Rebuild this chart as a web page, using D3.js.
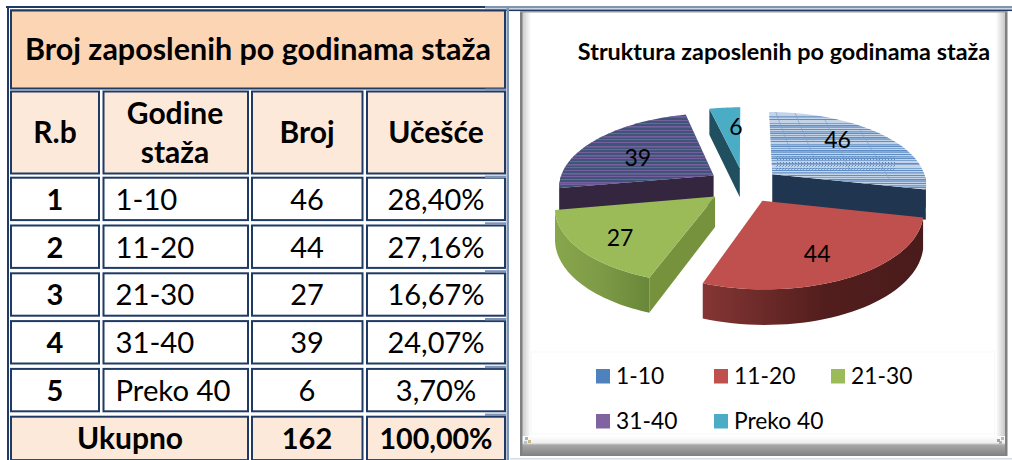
<!DOCTYPE html>
<html><head><meta charset="utf-8">
<script src="https://cdnjs.cloudflare.com/ajax/libs/d3/7.8.5/d3.min.js"></script>
<style>html,body{margin:0;padding:0;background:#fff}svg{display:block}text{font-family:Lato,"Open Sans",sans-serif;fill:#000}</style>
</head><body><svg id="c" width="1012" height="460"></svg>
<script>
// ---- data ----
const tableTitle = "Broj zaposlenih po godinama staža";
const chartTitle = "Struktura zaposlenih po godinama staža";
const headers = ["R.b", ["Godine", "staža"], "Broj", "Učešće"];
const rowNumbers = ["1", "2", "3", "4", "5"];
const categories = ["1-10", "11-20", "21-30", "31-40", "Preko 40"];
const counts = [46, 44, 27, 39, 6];
const shares = ["28,40%", "27,16%", "16,67%", "24,07%", "3,70%"];
const totalLabel = "Ukupno", totalCount = "162", totalShare = "100,00%";

// ---- style ----
const topColors = ["#c4d4e8", "#c0504d", "#9bbb59", "#3f5478", "#4bacc6"];
const swatches = ["#4f81bd", "#c0504d", "#9bbb59", "#8064a2", "#4bacc6"];
const wallColors = ["#1f3550", "url(#redWall)", "url(#greenWall)", "#35263f", "#205060"];
const faceColors = ["#1f3550", "#4c1d1c", "#76923c", "#35263f", "#205060"];
const labelAngleShift = [-9, 3, -3, -7, 4], labelRadius = [.7, .7, .75, .58, .65];
const navy = "#1f3a64", steel = "#7f93b2";
const blueRows = [116,119,123,125,127,129,131,133,135,137,139,141,144,146,148,150,152,154,156,158,160,163,168,170,172,175,177,179,181,183,185,187,189,191];
const purpleRows = [112,116,120,123,126,130,133,136,139,142,146,149,152,155,158,161,164,167,170,173,176,179,182,184];
const blueRays = [[775,110,790,150],[795,113,815,160],[825,120,850,170],[860,130,890,180]];
const cornerSpecks = [[525,437,"#9fb4c8"],[528,440,"#c9b98a"],[524,441,"#b8c4cc"],[999,441,"#9fb4c8"],[1001,437,"#c9b98a"],[997,439,"#8fa8b8"]];

const svg = d3.select("#c");
const defs = svg.append("defs");
function grad(id, stops, x2 = 1, y2 = 0) {
  const g = defs.append("linearGradient").attr("id", id).attr("x1", 0).attr("y1", 0).attr("x2", x2).attr("y2", y2);
  stops.forEach(s => g.append("stop").attr("offset", s[0]).attr("stop-color", s[1]));
}
grad("redWall", [[0, "#853634"], [.55, "#521e1d"], [1, "#4a1b1b"]]);
grad("greenWall", [[0, "#88a64c"], [.5, "#7d9a46"], [1, "#69873a"]]);
grad("edgeL", [[0, "#c8c8c8"], [1, "#ffffff"]]);
grad("edgeR", [[0, "#ffffff"], [1, "#c8c8c8"]]);
grad("edgeB", [[0, "#ffffff"], [.35, "#ededed"], [.45, "#a8a8a8"], [1, "#808080"]], 0, 1);
const dots = defs.append("pattern").attr("id", "dots").attr("width", 3).attr("height", 3).attr("patternUnits", "userSpaceOnUse");
dots.append("rect").attr("width", 1).attr("height", 1).attr("fill", "#5a88c0");
dots.append("rect").attr("x", 2).attr("y", 1).attr("width", 1).attr("height", 1).attr("fill", "#7ba1cf");

// ---- page frame ----
svg.append("rect").attr("x", 6).attr("y", 6).attr("width", 480).attr("height", 2).attr("fill", navy);
svg.append("rect").attr("x", 485).attr("y", 6).attr("width", 527).attr("height", 2.4).attr("fill", steel);
svg.append("rect").attr("x", 10).attr("y", 9.5).attr("width", 1002).attr("height", 1.6).attr("fill", navy);
svg.append("rect").attr("x", 7).attr("y", 6).attr("width", 2).attr("height", 454).attr("fill", navy);
svg.append("rect").attr("x", 506.5).attr("y", 8).attr("width", 2.5).attr("height", 452).attr("fill", steel);

// ---- table ----
const colX = [10, 102.5, 251, 366], colEnd = [100, 249, 363.5, 506];
const rowY = d3.scaleLinear().domain([0, 1]).range([176.7, 224.5]);
const rowH = 44.4;
const t = svg.append("g");
function cell(x0, x1, y0, h, fill) {
  t.append("rect").attr("x", x0 + 1).attr("y", y0 + 1).attr("width", x1 - x0 - 2).attr("height", h - 2)
    .attr("fill", fill).attr("stroke", navy).attr("stroke-width", 2);
}
function txt(s, x, y, size, bold, anchor = "middle") {
  t.append("text").attr("x", x).attr("y", y).attr("font-size", size).attr("font-weight", bold ? 700 : 400)
    .attr("text-anchor", anchor).text(s);
}
const peach = "#fcd5b4", pale = "#fde9d9";
cell(10, 506, 9.5, 80, peach);
txt(tableTitle, 258, 59.5, 30.5, true);
colX.forEach((x, i) => cell(x, colEnd[i], 90.5, 84, pale));
const colC = [55, 175, 307, 436];
txt(headers[0], colC[0], 143, 30, true);
txt(headers[1][0], colC[1], 124, 30, true);
txt(headers[1][1], colC[1], 163, 30, true);
txt(headers[2], colC[2], 143, 30, true);
txt(headers[3], colC[3], 143, 30, true);
categories.forEach((c, i) => {
  const y = rowY(i), b = y + 33;
  colX.forEach((x, j) => cell(x, colEnd[j], y, rowH, "#fff"));
  txt(rowNumbers[i], colC[0], b, 29, true);
  txt(c, 115.5, b, 29.3, false, "start");
  txt(counts[i], colC[2], b, 29, false);
  txt(shares[i], colC[3], b, 29, false);
});
const ty = rowY(5);
cell(10, 249, ty, rowH + 1, pale); cell(251, 363.5, ty, rowH + 1, pale); cell(366, 506, ty, rowH + 1, pale);
txt(totalLabel, 130, ty + 33, 30, true);
txt(totalCount, colC[2], ty + 33, 29, true);
txt(totalShare, colC[3], ty + 33, 28.6, true);
[88.6, 175.6, 222.3, 270.2, 318, 365.8, 413.6].forEach(y =>
  svg.append("rect").attr("x", 485).attr("y", y).attr("width", 21).attr("height", 2.4).attr("fill", steel));

// ---- chart panel ----
const p = svg.append("g");
p.append("rect").attr("x", 520).attr("y", 11).attr("width", 487).attr("height", 445).attr("fill", "#fff");
p.append("rect").attr("x", 522).attr("y", 12).attr("width", 9).attr("height", 434).attr("fill", "url(#edgeL)");
p.append("rect").attr("x", 996).attr("y", 12).attr("width", 9).attr("height", 434).attr("fill", "url(#edgeR)");
p.append("rect").attr("x", 522).attr("y", 436).attr("width", 483).attr("height", 20).attr("fill", "url(#edgeB)");
p.append("rect").attr("x", 520).attr("y", 11).attr("width", 2.5).attr("height", 445).attr("fill", "#808080");
p.append("rect").attr("x", 1005).attr("y", 11).attr("width", 2.5).attr("height", 445).attr("fill", "#808080");
p.append("rect").attr("x", 520).attr("y", 11).attr("width", 487).attr("height", 1.5).attr("fill", "#9a9a9a");
p.append("rect").attr("x", 510).attr("y", 458).attr("width", 502).attr("height", 1.5).attr("fill", "#d5dbe6");
p.append("rect").attr("x", 531.5).attr("y", 352).attr("width", 463).attr("height", 82).attr("fill", "none").attr("stroke", "#f8f8f8");
cornerSpecks.forEach(s => p.append("rect").attr("x", s[0]).attr("y", s[1]).attr("width", 3).attr("height", 3).attr("fill", s[2]));

svg.append("text").attr("x", 784).attr("y", 59.5).attr("text-anchor", "middle").attr("font-size", 23.4).attr("font-weight", 700).text(chartTitle);

// ---- 3D exploded pie ----
const cx = 744, cy = 185, R = 155, explode = 37, tilt = .47, D = 1200, depth = 30;
const pie = d3.pie().sort(null)(counts);
function project(u, v, drop = 0) {
  const s = D / (D - v);
  return [cx + u * s, cy + (tilt * v + drop) * s];
}
function slicePoint(a, mid, r, drop = 0) {
  return project(explode * Math.sin(mid) + r * Math.sin(a), -explode * Math.cos(mid) - r * Math.cos(a), drop);
}
const line = d3.line();
const arcAngles = (a0, a1) => d3.range(0, 41).map(i => a0 + (a1 - a0) * i / 40);
const g = svg.append("g");
[4, 0, 3, 2, 1].forEach(i => {
  const d = pie[i], a0 = d.startAngle, a1 = d.endAngle, m = (a0 + a1) / 2;
  const face = a => [slicePoint(0, m, 0), slicePoint(a, m, R), slicePoint(a, m, R, depth), slicePoint(0, m, 0, depth)];
  // outer wall, only where it faces the viewer
  const w0 = Math.max(a0, Math.PI / 2), w1 = Math.min(a1, 1.5 * Math.PI);
  if (w1 > w0) {
    const arc = arcAngles(w0, w1);
    g.append("path").attr("d", line(arc.map(a => slicePoint(a, m, R)).concat(arc.slice().reverse().map(a => slicePoint(a, m, R, depth)))) + "Z").attr("fill", wallColors[i]);
  }
  // cut faces that face the viewer
  if (-Math.cos(a1 + Math.PI / 2) > 0) g.append("path").attr("d", line(face(a1)) + "Z").attr("fill", faceColors[i]);
  if (-Math.cos(a0 - Math.PI / 2) > 0) g.append("path").attr("d", line(face(a0)) + "Z").attr("fill", faceColors[i]);
  // top
  const topPath = line([slicePoint(0, m, 0)].concat(arcAngles(a0, a1).map(a => slicePoint(a, m, R)))) + "Z";
  g.append("path").attr("d", topPath).attr("fill", topColors[i]);
  defs.append("clipPath").attr("id", "top" + i).append("path").attr("d", topPath);
  const tex = g.append("g").attr("clip-path", `url(#top${i})`);
  if (i === 0) {
    blueRows.forEach((y, k) => tex.append("rect").attr("x", 760).attr("y", y).attr("width", 180).attr("height", k % 3 === 0 ? 1.6 : 1).attr("fill", "#4f81bd").attr("opacity", k % 2 ? .85 : .6));
    blueRays.forEach(r => tex.append("line").attr("x1", r[0]).attr("y1", r[1]).attr("x2", r[2]).attr("y2", r[3]).attr("stroke", "#7ba1cf").attr("stroke-width", .7));
    tex.append("rect").attr("x", 775).attr("y", 156).attr("width", 120).attr("height", 14).attr("fill", "url(#dots)");
  }
  if (i === 3) {
    purpleRows.forEach((y, k) => tex.append("rect").attr("x", 550).attr("y", y).attr("width", 170).attr("height", k % 3 === 1 ? 1.6 : 1).attr("fill", "#7f62a6").attr("opacity", .85));
  }
});
pie.forEach((d, i) => {
  const m = (d.startAngle + d.endAngle) / 2, a = m + labelAngleShift[i] * Math.PI / 180;
  const q = slicePoint(a, m, R * labelRadius[i]);
  svg.append("text").attr("x", q[0]).attr("y", q[1] + 8).attr("text-anchor", "middle").attr("font-size", 23).text(d.data);
});

// ---- legend ----
const legendX = d3.scaleOrdinal().domain([0, 1, 2]).range([596, 714, 831]);
const legendY = d3.scaleOrdinal().domain([0, 1]).range([369, 414]);
categories.forEach((c, i) => {
  const x = legendX(i % 3), y = legendY(Math.floor(i / 3));
  svg.append("rect").attr("x", x).attr("y", y).attr("width", 14).attr("height", 14.5).attr("fill", swatches[i]);
  svg.append("text").attr("x", x + 20).attr("y", y + 15).attr("font-size", 22.8).text(c);
});
</script></body></html>
